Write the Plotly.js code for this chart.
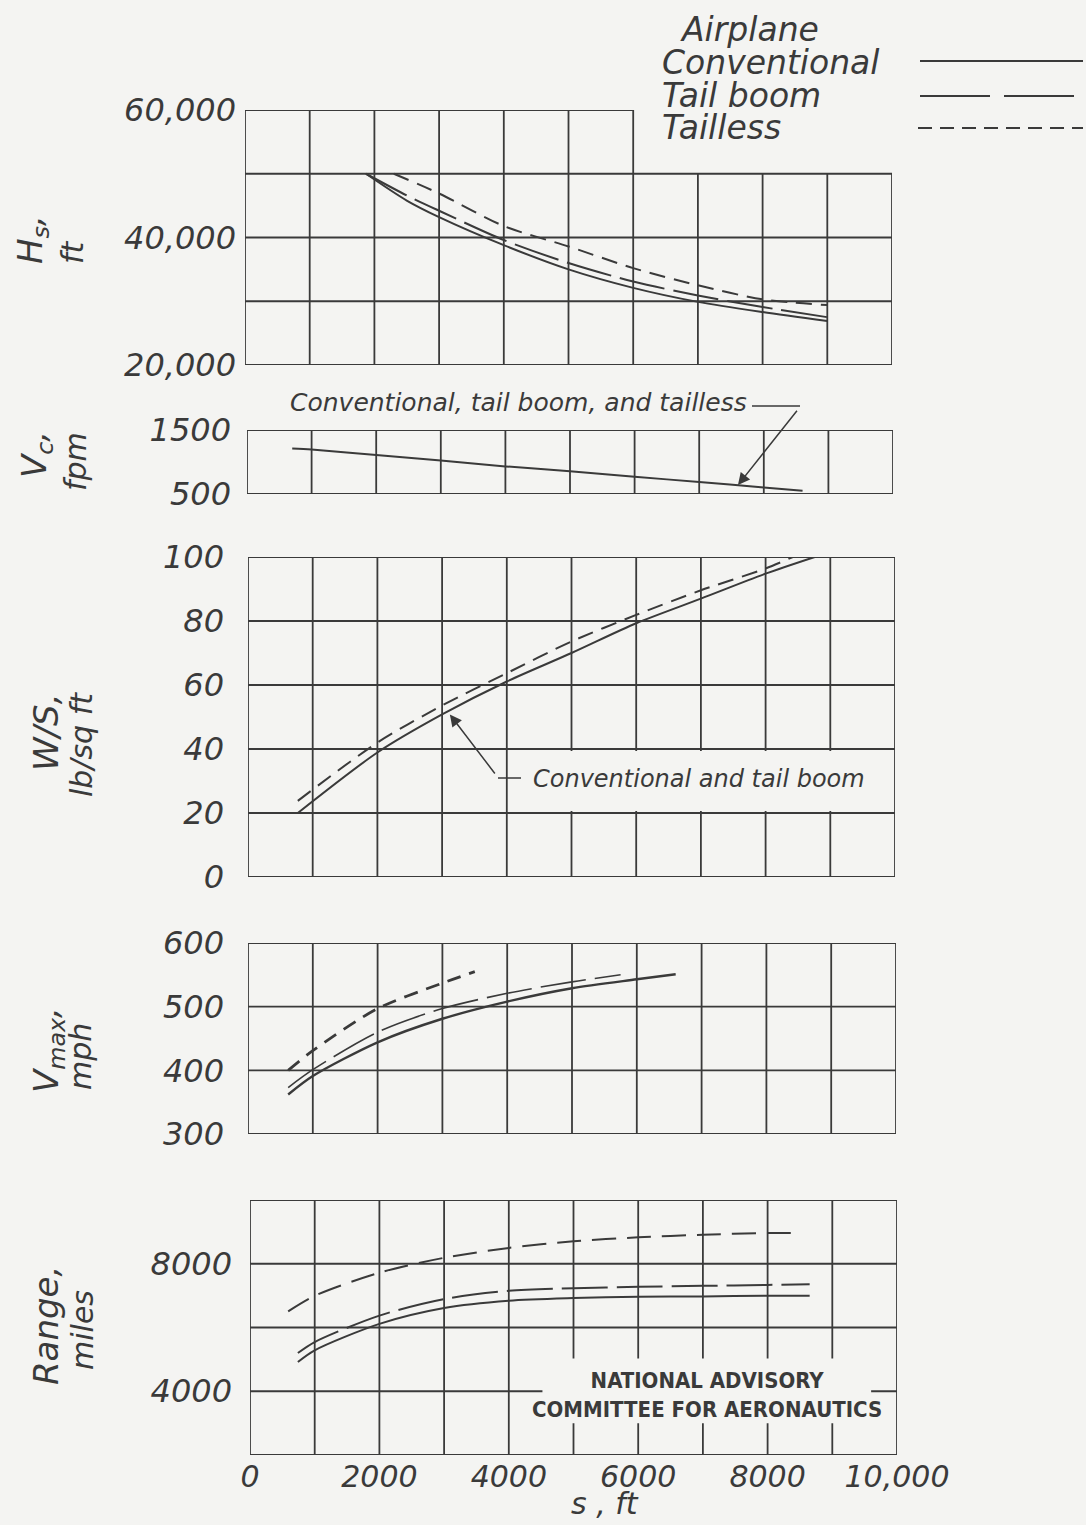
<!DOCTYPE html>
<html>
<head>
<meta charset="utf-8">
<script src="https://cdn.plot.ly/plotly-3.0.1.min.js"></script>
<style>html,body{margin:0;padding:0;background:#f4f4f2;}#chart{width:1086px;height:1525px;}</style>
</head>
<body>
<div id="chart"></div>
<script>
// ---------------- DATA ----------------
// Panel 1: Hs (ft) vs s (ft)
const hsConvX = [1870, 2500, 3000, 4000, 5000, 6000, 7000, 8000, 9000];
const hsConvY = [50000, 45800, 43200, 38800, 35000, 32100, 29900, 28300, 26900];
const hsBoomX = [1870, 2500, 3000, 4000, 5000, 6000, 7000, 8000, 9000];
const hsBoomY = [50000, 46600, 44200, 39600, 36000, 33100, 30900, 29100, 27500];
const hsTaillessX = [2300, 3000, 4000, 5000, 6000, 7000, 8000, 9000];
const hsTaillessY = [50000, 46900, 41800, 38600, 35200, 32500, 30300, 29400];
// Panel 2: Vc (fpm) - all three airplanes identical
const vcX = [700, 1000, 2000, 3000, 4000, 5000, 6000, 7000, 8000, 8600];
const vcY = [1211, 1195, 1109, 1023, 931, 855, 769, 688, 601, 551];
// Panel 3: W/S (lb/sq ft)
const wsConvX = [770, 2000, 3000, 4000, 5000, 6000, 7000, 8000, 8760];
const wsConvY = [20, 38.9, 50.8, 61.1, 70, 79.3, 87, 94.8, 100];
const wsTaillessX = [770, 2000, 3000, 4000, 5000, 6000, 7000, 8000, 8420];
const wsTaillessY = [23.8, 42, 53.6, 63.7, 73.6, 81.9, 89.6, 96.4, 100];
// Panel 4: Vmax (mph)
const vmConvX = [620, 1000, 2000, 3000, 4000, 5000, 6000, 6600];
const vmConvY = [362, 391, 444, 481, 508, 529, 543, 551];
const vmBoomX = [620, 1000, 2000, 3000, 4000, 5000, 5750];
const vmBoomY = [373, 401, 460, 497, 521, 539, 550];
const vmTaillessX = [620, 1000, 2000, 3000, 3500];
const vmTaillessY = [400, 431, 497, 537, 555];
// Panel 5: Range (miles)
const rgConvX = [740, 1000, 2000, 3000, 4000, 5000, 6000, 7000, 8000, 8650];
const rgConvY = [4920, 5285, 6114, 6611, 6839, 6922, 6964, 6974, 6995, 6995];
const rgBoomX = [740, 1000, 2000, 3000, 4000, 5000, 6000, 7000, 8000, 8650];
const rgBoomY = [5200, 5544, 6373, 6891, 7150, 7233, 7275, 7306, 7337, 7357];
const rgTaillessX = [590, 1000, 2000, 3000, 4000, 5000, 6000, 7000, 8000, 8490];
const rgTaillessY = [6508, 6995, 7720, 8187, 8497, 8705, 8829, 8912, 8964, 8964];

// tick values / labels
const xTickVals = [0, 2000, 4000, 6000, 8000, 10000];
const xTickText = ['0', '2000', '4000', '6000', '8000', '10,000'];
const hsTickVals = [20000, 40000, 60000];
const hsTickText = ['20,000', '40,000', '60,000'];
const vcTickVals = [500, 1500];
const vcTickText = ['500', '1500'];
const wsTickVals = [0, 20, 40, 60, 80, 100];
const wsTickText = ['0', '20', '40', '60', '80', '100'];
const vmTickVals = [300, 400, 500, 600];
const vmTickText = ['300', '400', '500', '600'];
const rgTickVals = [4000, 8000];
const rgTickText = ['4000', '8000'];

const legendNames = ['Conventional', 'Tail boom', 'Tailless'];

// ---------------- STYLE ----------------
const W = 1086, H = 1525;
const BG = '#f4f4f2';
const INK = '#3a3a3a';
const HAND = {family: 'DejaVu Sans, sans-serif', style: 'italic', weight: 200, color: INK};
const DASH_BOOM = '46px,9px';
const DASH_TAILLESS = '16px,9px';
const px = v => v / W;
const py = v => 1 - v / H;

const doms = [
  {x: [245, 892], y: [365, 110]},
  {x: [247, 893], y: [494, 430]},
  {x: [248, 895], y: [877, 557]},
  {x: [248, 896], y: [1134, 943]},
  {x: [250, 897], y: [1455, 1200]}
];
const yRanges = [[20000, 60000], [500, 1500], [0, 100], [300, 600], [2000, 10000]];
const yGrids = [
  [20000, 30000, 40000, 50000, 60000],
  [500, 1500],
  [0, 20, 40, 60, 80, 100],
  [300, 400, 500, 600],
  [2000, 4000, 6000, 8000, 10000]
];
const yTicks = [[hsTickVals, hsTickText], [vcTickVals, vcTickText], [wsTickVals, wsTickText], [vmTickVals, vmTickText], [rgTickVals, rgTickText]];
const yStandoff = [8, 15, 23, 23, 17];

const layout = {
  width: W, height: H,
  margin: {l: 0, r: 0, t: 0, b: 0},
  paper_bgcolor: BG, plot_bgcolor: BG,
  showlegend: false,
  shapes: [], annotations: []
};

for (let i = 0; i < 5; i++) {
  const n = i === 0 ? '' : String(i + 1);
  const d = doms[i];
  layout['xaxis' + n] = {
    domain: [px(d.x[0]), px(d.x[1])], range: [0, 10000],
    anchor: 'y' + n, showgrid: false, zeroline: false, showline: false,
    ticks: '', showticklabels: i === 4,
    tickvals: xTickVals, ticktext: xTickText,
    tickfont: Object.assign({size: 30}, HAND), ticklabelstandoff: 1
  };
  layout['yaxis' + n] = {
    domain: [py(d.y[0]), py(d.y[1])], range: yRanges[i],
    anchor: 'x' + n, showgrid: false, zeroline: false, showline: false,
    ticks: '', tickvals: yTicks[i][0], ticktext: yTicks[i][1],
    tickfont: Object.assign({size: 32}, HAND), ticklabelstandoff: yStandoff[i]
  };
  // grid lines drawn as shapes (panel 1 has a stepped top)
  const xg = [];
  for (let v = 0; v <= 10000; v += 1000) xg.push(v);
  const ymax = yRanges[i][1];
  xg.forEach(v => {
    const top = (i === 0 && v > 6000) ? 50000 : ymax;
    layout.shapes.push({type: 'line', layer: 'below', xref: 'x' + n, yref: 'y' + n,
      x0: v, x1: v, y0: yRanges[i][0], y1: top, line: {color: INK, width: 1.8}});
  });
  yGrids[i].forEach(v => {
    const right = (i === 0 && v > 50000) ? 6000 : 10000;
    layout.shapes.push({type: 'line', layer: 'below', xref: 'x' + n, yref: 'y' + n,
      x0: 0, x1: right, y0: v, y1: v, line: {color: INK, width: 1.8}});
  });
}

// blank boxes behind notes
layout.shapes.push({type: 'rect', layer: 'below', xref: 'x3', yref: 'y3',
  x0: 4250, x1: 9960, y0: 20.6, y1: 39.4, fillcolor: BG, line: {width: 0}});
layout.shapes.push({type: 'rect', layer: 'below', xref: 'x5', yref: 'y5',
  x0: 4520, x1: 9600, y0: 3000, y1: 5030, fillcolor: BG, line: {width: 0}});

// leader line pieces (paper coords)
layout.shapes.push({type: 'line', xref: 'paper', yref: 'paper',
  x0: px(752), x1: px(800), y0: py(406), y1: py(406), line: {color: INK, width: 1.5}});
layout.shapes.push({type: 'line', xref: 'paper', yref: 'paper',
  x0: px(498), x1: px(521), y0: py(778), y1: py(778), line: {color: INK, width: 1.5}});

// legend sample lines
layout.shapes.push({type: 'line', xref: 'paper', yref: 'paper',
  x0: px(920), x1: px(1083), y0: py(61), y1: py(61), line: {color: INK, width: 2}});
layout.shapes.push({type: 'line', xref: 'paper', yref: 'paper',
  x0: px(920), x1: px(1083), y0: py(96), y1: py(96), line: {color: INK, width: 2, dash: '70px,14px'}});
layout.shapes.push({type: 'line', xref: 'paper', yref: 'paper',
  x0: px(918), x1: px(1083), y0: py(128), y1: py(128), line: {color: INK, width: 2, dash: '14px,8px'}});

function ann(text, x, y, size, opts) {
  return Object.assign({text: text, xref: 'paper', yref: 'paper', x: px(x), y: py(y),
    xanchor: 'center', yanchor: 'middle',
    showarrow: false, font: Object.assign({size: size}, HAND)}, opts || {});
}
// legend text
layout.annotations.push(ann('Airplane', 678, 30, 33, {xanchor: 'left'}));
layout.annotations.push(ann(legendNames[0], 660, 62, 33, {xanchor: 'left'}));
layout.annotations.push(ann(legendNames[1], 660, 96, 33, {xanchor: 'left'}));
layout.annotations.push(ann(legendNames[2], 660, 127, 33, {xanchor: 'left'}));

// axis titles
const rot = {textangle: -90};
layout.annotations.push(ann('H<sub>s</sub>,', 32, 240, 34, rot));
layout.annotations.push(ann('ft', 72, 252, 30, rot));
layout.annotations.push(ann('V<sub>c</sub>,', 36, 455, 34, rot));
layout.annotations.push(ann('fpm', 76, 462, 30, rot));
layout.annotations.push(ann('W/S,', 46, 733, 34, rot));
layout.annotations.push(ann('lb/sq ft', 82, 745, 30, rot));
layout.annotations.push(ann('V<sub>max</sub>,', 48, 1050, 34, rot));
layout.annotations.push(ann('mph', 80, 1057, 30, rot));
layout.annotations.push(ann('Range,', 46, 1326, 34, rot));
layout.annotations.push(ann('miles', 82, 1330, 30, rot));
layout.annotations.push(ann('s , ft', 605, 1503, 30));

// notes
layout.annotations.push(ann('Conventional, tail boom, and tailless', 518, 403, 25));
layout.annotations.push(ann('Conventional and tail boom', 699, 779, 24));
layout.annotations.push(ann('NATIONAL ADVISORY<br>COMMITTEE FOR AERONAUTICS', 707, 1395, 22,
  {font: {family: 'DejaVu Sans Condensed, DejaVu Sans, sans-serif', size: 22, weight: 'bold', color: INK}}));
// arrows
layout.annotations.push({text: ' ', xref: 'x2', yref: 'y2', x: 7600, y: 640,
  showarrow: true, ax: 62, ay: -78, arrowhead: 2, arrowsize: 1.6, arrowwidth: 1.5, arrowcolor: INK, standoff: 0});
layout.annotations.push({text: ' ', xref: 'x3', yref: 'y3', x: 3120, y: 50.8,
  showarrow: true, ax: 48, ay: 63, arrowhead: 2, arrowsize: 1.6, arrowwidth: 1.5, arrowcolor: INK, standoff: 0});

// ---------------- TRACES ----------------
function tr(x, y, n, dash, w, name) {
  return {x: x, y: y, xaxis: 'x' + n, yaxis: 'y' + n, type: 'scatter', mode: 'lines', name: name,
    line: {color: INK, width: w || 2, dash: dash || 'solid', shape: 'spline', smoothing: 0.8},
    hoverinfo: 'skip'};
}
const data = [
  tr(hsConvX, hsConvY, '', 'solid', 2, legendNames[0]),
  tr(hsBoomX, hsBoomY, '', DASH_BOOM, 2, legendNames[1]),
  tr(hsTaillessX, hsTaillessY, '', DASH_TAILLESS, 2, legendNames[2]),
  tr(vcX, vcY, '2', 'solid', 2, 'All'),
  tr(wsConvX, wsConvY, '3', 'solid', 2, 'Conventional and tail boom'),
  tr(wsTaillessX, wsTaillessY, '3', DASH_TAILLESS, 2, legendNames[2]),
  tr(vmConvX, vmConvY, '4', 'solid', 2.4, legendNames[0]),
  tr(vmBoomX, vmBoomY, '4', DASH_BOOM, 1.6, legendNames[1]),
  tr(vmTaillessX, vmTaillessY, '4', '14px,9px', 2.8, legendNames[2]),
  tr(rgConvX, rgConvY, '5', 'solid', 2, legendNames[0]),
  tr(rgBoomX, rgBoomY, '5', DASH_BOOM, 2, legendNames[1]),
  tr(rgTaillessX, rgTaillessY, '5', '24px,11px', 2, legendNames[2])
];

Plotly.newPlot('chart', data, layout, {staticPlot: true, displayModeBar: false});
</script>
</body>
</html>
